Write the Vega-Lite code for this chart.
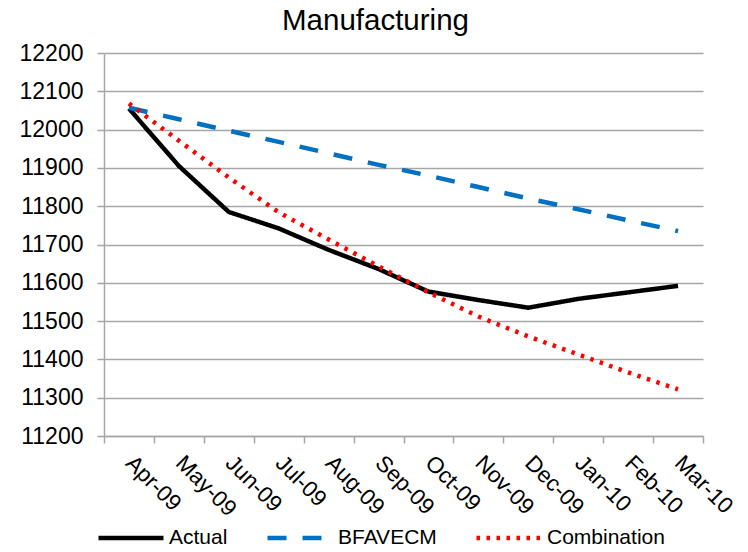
{
  "$schema": "https://vega.github.io/schema/vega-lite/v6.json",
  "width": 599,
  "height": 383,
  "autosize": {"type": "none"},
  "padding": {"left": 104, "top": 53, "right": 45, "bottom": 116},
  "background": "white",
  "title": {"text": "Manufacturing", "font": "Liberation Sans", "fontSize": 29.5, "fontWeight": "normal", "color": "#000000", "anchor": "middle", "dx": -28, "offset": 6},
  "data": {"values": [
    {"month": "Apr-09", "series": "Actual", "value": 12055},
    {"month": "May-09", "series": "Actual", "value": 11905},
    {"month": "Jun-09", "series": "Actual", "value": 11785},
    {"month": "Jul-09", "series": "Actual", "value": 11742},
    {"month": "Aug-09", "series": "Actual", "value": 11686},
    {"month": "Sep-09", "series": "Actual", "value": 11636},
    {"month": "Oct-09", "series": "Actual", "value": 11577},
    {"month": "Nov-09", "series": "Actual", "value": 11555},
    {"month": "Dec-09", "series": "Actual", "value": 11535},
    {"month": "Jan-10", "series": "Actual", "value": 11558},
    {"month": "Feb-10", "series": "Actual", "value": 11575},
    {"month": "Mar-10", "series": "Actual", "value": 11592},
    {"month": "Apr-09", "series": "BFAVECM", "value": 12057},
    {"month": "May-09", "series": "BFAVECM", "value": 12027},
    {"month": "Jun-09", "series": "BFAVECM", "value": 11997},
    {"month": "Jul-09", "series": "BFAVECM", "value": 11968},
    {"month": "Aug-09", "series": "BFAVECM", "value": 11938},
    {"month": "Sep-09", "series": "BFAVECM", "value": 11908},
    {"month": "Oct-09", "series": "BFAVECM", "value": 11880},
    {"month": "Nov-09", "series": "BFAVECM", "value": 11850},
    {"month": "Dec-09", "series": "BFAVECM", "value": 11820},
    {"month": "Jan-10", "series": "BFAVECM", "value": 11792},
    {"month": "Feb-10", "series": "BFAVECM", "value": 11763},
    {"month": "Mar-10", "series": "BFAVECM", "value": 11735},
    {"month": "Apr-09", "series": "Combination", "value": 12068},
    {"month": "May-09", "series": "Combination", "value": 11971},
    {"month": "Jun-09", "series": "Combination", "value": 11875},
    {"month": "Jul-09", "series": "Combination", "value": 11784},
    {"month": "Aug-09", "series": "Combination", "value": 11713},
    {"month": "Sep-09", "series": "Combination", "value": 11643},
    {"month": "Oct-09", "series": "Combination", "value": 11575},
    {"month": "Nov-09", "series": "Combination", "value": 11512},
    {"month": "Dec-09", "series": "Combination", "value": 11460},
    {"month": "Jan-10", "series": "Combination", "value": 11413},
    {"month": "Feb-10", "series": "Combination", "value": 11366},
    {"month": "Mar-10", "series": "Combination", "value": 11322}
  ]},
  "mark": {"type": "line", "strokeWidth": 4.5, "strokeCap": "butt", "strokeJoin": "round"},
  "encoding": {
    "x": {
      "field": "month", "type": "ordinal", "sort": null, "bandPosition": 0.5,
      "scale": {"type": "band", "paddingInner": 0, "paddingOuter": 0},
      "axis": {"title": null, "labelAngle": 45, "labelAlign": "left", "labelBaseline": "middle", "labelFont": "Liberation Sans", "labelFontSize": 22.5, "labelColor": "#000000", "labelPadding": 16, "tickSize": 7, "tickBand": "extent", "tickColor": "#a6a6a6", "tickWidth": 1.5, "domainColor": "#a6a6a6", "domainWidth": 1.5, "grid": false, "labelOverlap": false, "labelBound": false}
    },
    "y": {
      "field": "value", "type": "quantitative",
      "scale": {"domain": [11200, 12200], "nice": false, "zero": false},
      "axis": {"title": null, "format": "d", "values": [11200, 11300, 11400, 11500, 11600, 11700, 11800, 11900, 12000, 12100, 12200], "labelFont": "Liberation Sans", "labelFontSize": 23, "labelColor": "#000000", "labelPadding": 14, "tickSize": 7, "tickColor": "#a6a6a6", "tickWidth": 1.5, "domainColor": "#a6a6a6", "domainWidth": 1.5, "grid": true, "gridColor": "#a6a6a6", "gridWidth": 1.5}
    },
    "color": {
      "field": "series", "type": "nominal",
      "scale": {"domain": ["Actual", "BFAVECM", "Combination"], "range": ["#000000", "#0070C0", "#FF0000"]},
      "legend": {"title": null, "orient": "none", "legendX": -8, "legendY": 450, "direction": "horizontal", "symbolType": "stroke", "symbolSize": 4225, "symbolStrokeWidth": 4.5, "labelFont": "Liberation Sans", "labelFontSize": 21, "labelColor": "#000000", "labelOffset": 3, "columnPadding": 30}
    },
    "strokeDash": {
      "field": "series", "type": "nominal",
      "scale": {"domain": ["Actual", "BFAVECM", "Combination"], "range": [[1, 0], [19, 16], [3.5, 6.5]]},
      "legend": {"title": null, "orient": "none", "legendX": -8, "legendY": 450, "direction": "horizontal", "symbolType": "stroke", "symbolSize": 4225, "symbolStrokeWidth": 4.5, "labelFont": "Liberation Sans", "labelFontSize": 21, "labelColor": "#000000", "labelOffset": 3, "columnPadding": 30}
    }
  },
  "config": {"view": {"stroke": null}}
}
